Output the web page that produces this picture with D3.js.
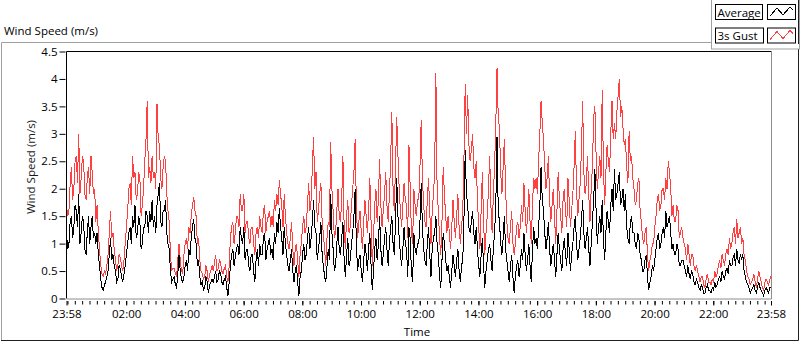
<!DOCTYPE html>
<html>
<head>
<meta charset="utf-8">
<script src="https://cdn.jsdelivr.net/npm/d3@7"></script>
<style>
  body { margin: 0; background: #fff; }
  svg { display: block; }
</style>
</head>
<body>
<div class="windChart"></div>
<script>
// samples every 2.5 minutes from 23:58 to 23:58 next day (m/s), one row per hour
const startTime = new Date(2021, 0, 1, 23, 58)
const stepMinutes = 2.5

const average = [
  1.2, 0.9, 1.0, 1.4, 1.5, 1.1, 1.3, 1.7, 1.6, 1.3, 1.9, 1.0, 1.2, 1.5, 1.4, 0.9, 0.8, 1.2, 1.5, 1.0, 1.3, 1.5, 1.1, 1.2,
  1.0, 1.2, 0.8, 0.6, 0.35, 0.2, 0.15, 0.25, 0.3, 0.4, 0.5, 0.8, 1.1, 0.7, 0.8, 0.6, 0.5, 0.3, 0.35, 0.6, 0.55, 0.4, 0.3, 0.45,
  0.6, 0.8, 1.0, 1.2, 1.3, 1.0, 1.5, 1.3, 1.7, 1.1, 1.2, 1.5, 1.4, 0.9, 1.0, 1.3, 1.3, 1.6, 1.5, 1.2, 1.6, 1.4, 1.8, 1.3,
  1.5, 1.2, 1.7, 1.9, 2.1, 1.4, 1.3, 1.6, 1.6, 1.8, 1.2, 1.0, 0.9, 0.5, 0.3, 0.35, 0.4, 0.25, 0.2, 0.45, 0.8, 0.5, 0.35, 0.3,
  0.4, 0.6, 0.7, 0.5, 0.9, 0.8, 1.1, 1.3, 1.45, 1.1, 1.0, 0.6, 0.7, 0.4, 0.25, 0.3, 0.15, 0.2, 0.4, 0.3, 0.1, 0.25, 0.3, 0.35,
  0.3, 0.4, 0.5, 0.3, 0.35, 0.5, 0.45, 0.3, 0.25, 0.35, 0.4, 0.2, 0.05, 0.3, 0.6, 0.8, 0.9, 0.6, 0.75, 0.9, 1.0, 0.8, 1.3, 1.1,
  1.0, 1.3, 0.7, 0.9, 0.9, 0.6, 0.5, 0.8, 0.8, 0.5, 0.3, 0.7, 0.9, 0.6, 1.0, 0.8, 0.8, 1.1, 1.2, 0.7, 0.9, 1.0, 1.1, 0.8,
  0.9, 0.7, 1.2, 1.0, 1.4, 1.2, 1.65, 1.3, 1.1, 0.8, 1.3, 1.0, 0.8, 0.6, 0.5, 0.7, 0.9, 0.5, 0.3, 0.5, 0.6, 0.3, 0.05, 0.4,
  0.5, 0.8, 1.0, 0.7, 0.8, 1.1, 1.3, 0.9, 1.1, 1.4, 1.8, 1.3, 1.2, 0.7, 0.9, 1.1, 1.4, 0.8, 0.6, 0.4, 0.3, 0.6, 0.9, 0.7,
  1.9, 1.2, 0.9, 0.5, 0.6, 1.0, 1.3, 0.9, 0.8, 1.1, 1.4, 0.7, 0.4, 0.8, 1.1, 0.6, 0.7, 1.0, 1.2, 1.5, 2.0, 1.0, 0.5, 0.7,
  0.8, 0.5, 0.3, 0.7, 1.0, 0.8, 0.5, 0.9, 1.2, 0.6, 0.15, 0.5, 0.9, 1.1, 0.7, 1.0, 1.5, 0.9, 0.6, 0.8, 1.1, 1.3, 0.9, 0.6,
  1.0, 1.3, 1.5, 1.0, 0.8, 1.4, 2.2, 1.5, 1.1, 0.8, 0.6, 0.9, 1.3, 1.0, 0.9, 0.4, 1.3, 1.1, 0.5, 0.3, 1.2, 0.9, 0.8, 1.0,
  1.0, 1.4, 2.1, 1.3, 0.9, 0.7, 0.6, 1.0, 1.3, 0.8, 0.4, 0.9, 1.1, 1.2, 1.5, 1.0, 0.8, 0.4, 0.2, 0.7, 1.2, 1.0, 0.7, 0.5,
  0.6, 0.4, 0.2, 0.5, 0.8, 0.6, 0.4, 0.7, 0.9, 0.5, 0.3, 0.6, 0.7, 1.5, 2.7, 1.9, 1.7, 1.3, 1.2, 1.4, 1.6, 1.2, 1.0, 1.3,
  0.9, 0.6, 0.4, 0.8, 1.1, 0.6, 0.2, 0.5, 0.7, 0.9, 1.0, 0.7, 0.5, 0.9, 1.2, 1.7, 2.95, 1.6, 1.4, 1.0, 0.8, 1.1, 1.5, 0.9,
  0.7, 0.5, 0.3, 0.6, 0.8, 0.4, 0.1, 0.4, 0.6, 0.7, 0.4, 0.6, 0.9, 0.7, 1.2, 0.8, 0.5, 0.7, 1.0, 0.6, 0.3, 0.9, 1.3, 1.0,
  1.1, 0.9, 1.3, 1.7, 2.4, 1.8, 1.6, 1.2, 0.9, 1.1, 1.4, 0.9, 0.6, 0.8, 1.0, 0.7, 0.4, 0.8, 1.2, 0.9, 0.7, 0.5, 0.9, 1.1,
  0.8, 0.6, 1.2, 0.9, 0.5, 0.8, 1.0, 1.3, 1.5, 1.0, 0.7, 0.9, 1.1, 1.4, 1.8, 1.2, 0.9, 1.1, 1.3, 0.9, 0.6, 1.0, 1.4, 1.8,
  2.35, 1.6, 1.0, 1.3, 1.5, 1.2, 1.8, 1.1, 0.7, 1.2, 1.6, 1.4, 1.2, 1.7, 2.0, 1.6, 2.35, 1.8, 1.9, 2.1, 2.3, 1.7, 1.8, 2.0,
  1.6, 1.9, 1.3, 1.1, 1.0, 1.4, 1.5, 1.2, 1.2, 1.0, 0.9, 1.2, 1.1, 0.8, 0.7, 0.5, 0.5, 0.7, 0.8, 0.4, 0.15, 0.3, 0.4, 0.6,
  0.5, 0.7, 0.9, 1.1, 1.2, 0.9, 1.0, 1.2, 1.3, 1.1, 1.6, 1.3, 1.4, 1.5, 1.2, 0.9, 1.0, 0.8, 0.8, 1.0, 0.9, 0.6, 0.6, 0.7,
  0.7, 0.6, 0.5, 0.4, 0.6, 0.45, 0.35, 0.5, 0.45, 0.3, 0.25, 0.35, 0.3, 0.2, 0.15, 0.25, 0.2, 0.1, 0.1, 0.2, 0.25, 0.15, 0.15, 0.1,
  0.2, 0.15, 0.3, 0.2, 0.25, 0.35, 0.4, 0.3, 0.5, 0.4, 0.35, 0.5, 0.55, 0.45, 0.7, 0.6, 0.6, 0.75, 0.8, 0.6, 0.9, 0.7, 0.65, 0.8,
  0.7, 0.8, 0.5, 0.4, 0.3, 0.25, 0.2, 0.1, 0.15, 0.2, 0.25, 0.15, 0.1, 0.2, 0.3, 0.2, 0.15, 0.1, 0.05, 0.15, 0.2, 0.15, 0.1, 0.2, 0.2
]

const gust = [
  1.7, 1.5, 1.6, 2.1, 2.4, 1.8, 2.0, 2.5, 2.6, 2.1, 3.0, 1.9, 2.2, 2.6, 2.5, 1.9, 1.8, 2.2, 2.4, 1.9, 2.6, 2.3, 1.9, 2.0,
  1.4, 1.7, 1.2, 0.9, 0.6, 0.45, 0.4, 0.5, 0.45, 0.6, 0.8, 1.2, 1.6, 1.1, 1.2, 0.9, 0.7, 0.5, 0.6, 0.8, 0.75, 0.6, 0.5, 0.7,
  1.0, 1.3, 1.6, 2.0, 2.1, 1.7, 2.6, 2.2, 2.3, 1.8, 1.9, 2.3, 2.2, 1.5, 1.7, 2.0, 2.5, 2.9, 3.6, 2.2, 2.4, 2.1, 2.6, 2.2,
  2.3, 2.0, 3.55, 2.9, 2.8, 2.2, 2.0, 2.4, 2.6, 2.5, 1.9, 1.6, 1.4, 0.8, 0.5, 0.55, 0.55, 0.45, 0.4, 0.7, 1.0, 0.7, 0.5, 0.45,
  0.8, 1.0, 1.1, 0.9, 1.3, 1.2, 1.5, 1.7, 1.85, 1.6, 1.5, 1.0, 1.1, 0.7, 0.5, 0.45, 0.35, 0.4, 0.6, 0.5, 0.3, 0.45, 0.5, 0.6,
  0.5, 0.65, 0.8, 0.5, 0.55, 0.7, 0.65, 0.5, 0.45, 0.55, 0.6, 0.4, 0.3, 0.6, 1.1, 1.3, 1.4, 1.0, 1.2, 1.5, 1.5, 1.3, 1.9, 1.6,
  1.6, 1.9, 1.2, 1.4, 1.4, 1.1, 1.0, 1.3, 1.3, 1.0, 0.8, 1.2, 1.3, 1.1, 1.5, 1.3, 1.2, 1.6, 1.7, 1.2, 1.4, 1.5, 1.6, 1.3,
  1.5, 1.3, 1.8, 1.6, 1.9, 1.7, 2.15, 1.9, 1.7, 1.3, 1.9, 1.5, 1.2, 1.0, 0.9, 1.1, 1.4, 0.9, 0.6, 0.9, 1.0, 0.7, 0.4, 0.8,
  1.0, 1.3, 1.5, 1.2, 1.3, 1.7, 2.1, 1.6, 1.8, 2.4, 2.95, 2.0, 2.3, 1.4, 1.6, 1.9, 2.1, 1.4, 1.2, 0.9, 0.6, 1.1, 1.4, 1.3,
  2.85, 2.0, 1.6, 1.1, 1.2, 1.6, 2.0, 1.5, 1.4, 1.8, 2.6, 1.3, 0.9, 1.5, 1.8, 1.2, 1.3, 1.7, 2.0, 2.3, 2.9, 1.7, 1.1, 1.4,
  1.6, 1.2, 0.9, 1.4, 1.8, 1.5, 1.2, 1.6, 2.2, 1.4, 0.6, 1.1, 1.7, 2.0, 1.4, 1.8, 2.55, 1.7, 1.3, 1.6, 1.9, 2.3, 1.7, 1.4,
  1.9, 2.5, 3.4, 2.0, 1.6, 2.4, 3.3, 2.6, 2.0, 1.6, 1.3, 1.7, 2.1, 1.8, 1.7, 1.1, 2.8, 2.0, 1.2, 1.0, 2.0, 1.7, 1.5, 1.8,
  1.8, 2.4, 3.25, 2.2, 1.7, 1.4, 1.3, 1.8, 2.2, 1.6, 1.0, 1.6, 1.9, 2.3, 4.1, 2.0, 1.6, 1.1, 0.8, 1.4, 2.4, 1.9, 1.5, 1.2,
  1.5, 1.2, 0.9, 1.3, 1.8, 1.4, 1.1, 1.5, 1.9, 1.3, 1.0, 1.3, 1.6, 2.6, 3.9, 3.0, 3.7, 2.8, 2.5, 2.7, 3.0, 2.4, 2.2, 2.5,
  1.8, 1.3, 0.9, 1.6, 2.3, 1.4, 0.8, 1.2, 1.5, 2.0, 2.6, 1.7, 1.2, 1.9, 2.4, 3.2, 4.2, 3.3, 3.1, 2.3, 1.9, 2.4, 2.9, 2.0,
  1.4, 1.1, 1.0, 1.3, 1.6, 1.0, 0.8, 1.0, 1.3, 1.4, 1.1, 1.3, 1.7, 1.4, 2.1, 1.6, 1.2, 1.5, 2.0, 1.4, 1.0, 1.7, 2.2, 2.0,
  2.2, 1.9, 2.5, 3.0, 3.6, 3.2, 2.9, 2.4, 2.0, 2.2, 2.6, 1.8, 1.4, 1.7, 2.0, 1.5, 1.0, 1.6, 2.3, 1.8, 1.5, 1.2, 1.8, 2.0,
  1.6, 1.3, 2.2, 1.8, 1.3, 1.6, 1.9, 2.4, 3.05, 2.0, 1.5, 1.8, 2.1, 2.7, 3.6, 2.3, 1.9, 2.1, 2.6, 1.9, 1.4, 2.0, 2.4, 3.3,
  3.5, 2.6, 2.0, 2.3, 2.6, 2.2, 3.8, 2.4, 1.7, 2.3, 2.8, 2.5, 2.3, 3.0, 3.6, 2.9, 3.2, 2.9, 3.4, 3.7, 4.0, 3.3, 3.5, 3.1,
  2.8, 2.9, 2.4, 2.1, 3.05, 2.5, 2.6, 2.2, 2.0, 1.7, 1.8, 2.1, 2.2, 1.6, 1.4, 1.1, 1.0, 1.2, 1.3, 0.8, 0.5, 0.7, 0.8, 1.0,
  1.0, 1.3, 1.5, 1.8, 1.9, 1.6, 1.7, 2.0, 2.0, 1.8, 2.2, 2.0, 2.5, 2.3, 2.0, 1.5, 1.7, 1.4, 1.4, 1.7, 1.6, 1.1, 1.2, 1.3,
  1.1, 1.0, 0.9, 0.7, 1.0, 0.8, 0.6, 0.8, 0.8, 0.6, 0.5, 0.6, 0.5, 0.4, 0.3, 0.4, 0.4, 0.25, 0.2, 0.35, 0.45, 0.3, 0.3, 0.25,
  0.35, 0.3, 0.5, 0.4, 0.45, 0.6, 0.7, 0.55, 0.8, 0.7, 0.6, 0.8, 0.9, 0.8, 1.1, 0.9, 1.0, 1.2, 1.3, 1.0, 1.45, 1.1, 1.2, 1.3,
  1.0, 1.1, 0.8, 0.7, 0.5, 0.4, 0.35, 0.25, 0.3, 0.35, 0.45, 0.3, 0.2, 0.35, 0.5, 0.4, 0.3, 0.2, 0.15, 0.3, 0.35, 0.3, 0.25, 0.35, 0.4
]

const yTicks = [0, 0.5, 1, 1.5, 2, 2.5, 3, 3.5, 4, 4.5]
const labelHours = [2, 4, 6, 8, 10, 12, 14, 16, 18, 20, 22]
const seriesNames = ["Average", "3s Gust"]

const font = "'Open Sans', 'Noto Sans', sans-serif"
const colors = {"Average": "#000000", "3s Gust": "#ff4040"}

const drawWindChart = (className) => {
  let width = 800
  let height = 342
  let plot = {left: 66.5, right: 771.5, top: 51.5, bottom: 298.5}

  let endTime = d3.timeDay.offset(startTime, 1)
  let timeAt = i => new Date(+startTime + i * stepMinutes * 60000)

  let x = d3.scaleTime()
    .domain([startTime, endTime])
    .range([plot.left, plot.right - 0.5])

  let y = d3.scaleLinear()
    .domain([0, 4.5])
    .range([plot.bottom, plot.top])

  const svg = d3.select('.' + className).append("svg")
    .attr("width", width)
    .attr("height", height)
    .attr("font-family", font)

  // outer panel frame
  svg.append("path")
    .attr("d", `M1.5,341 V42.5 H712`)
    .attr("fill", "none")
    .attr("stroke", "#a0a0a0")
  svg.append("path")
    .attr("d", `M1,340.5 H798.5 V42`)
    .attr("fill", "none")
    .attr("stroke", "#202020")

  svg.append("text")
    .attr("x", 4)
    .attr("y", 35)
    .attr("font-size", 11.5)
    .attr("fill", "#000")
    .text("Wind Speed (m/s)")

  // plot area
  svg.append("defs").append("clipPath")
      .attr("id", "plotClip")
    .append("rect")
      .attr("x", plot.left)
      .attr("y", plot.top)
      .attr("width", plot.right - plot.left)
      .attr("height", plot.bottom - plot.top)

  let line = d3.line()
    .x((d, i) => x(timeAt(i)))
    .y(d => y(d))

  let series = [
    {name: "3s Gust", values: gust},
    {name: "Average", values: average}
  ]

  svg.append("g")
      .attr("clip-path", "url(#plotClip)")
    .selectAll("path")
    .data(series)
    .join("path")
      .attr("fill", "none")
      .attr("stroke", d => colors[d.name])
      .attr("stroke-width", 1)
      .attr("shape-rendering", "crispEdges")
      .attr("d", d => line(d.values))

  svg.append("path")
    .attr("d", `M${plot.left},${plot.bottom} V${plot.top} H${plot.right}`)
    .attr("fill", "none")
    .attr("stroke", "#000")
  svg.append("path")
    .attr("d", `M${plot.left},${plot.bottom + 0.5} H${plot.right} V${plot.top}`)
    .attr("fill", "none")
    .attr("stroke", "#8c8c8c")

  // y axis
  let yAxis = g => g
    .attr("transform", `translate(${plot.left - 1},0)`)
    .call(d3.axisLeft(y).tickValues(yTicks).tickSize(6).tickPadding(2).tickFormat(d3.format("~g")))
    .call(g => g.select(".domain").remove())
    .call(g => g.selectAll("text").attr("font-size", 11.5).attr("fill", "#000").attr("font-family", font))

  svg.append("g").call(yAxis)

  // x axis: minor ticks every 15 min, labels every 2 h plus both ends
  let minorTicks = d3.timeMinute.every(15).range(startTime, endTime)
  let labelTicks = [startTime]
    .concat(labelHours.map(h => new Date(2021, 0, 2, h, 0)))
    .concat([endTime])

  let axisY = plot.bottom + 2.5

  svg.append("g")
    .attr("transform", `translate(0,${axisY})`)
    .call(d3.axisBottom(x).tickValues(minorTicks).tickSize(3.5).tickFormat(""))
    .call(g => g.select(".domain").remove())

  svg.append("g")
    .attr("transform", `translate(0,${axisY})`)
    .call(d3.axisBottom(x).tickValues(labelTicks).tickSize(4.5).tickPadding(4).tickFormat(d3.timeFormat("%H:%M")))
    .call(g => g.select(".domain").remove())
    .call(g => g.selectAll("text").attr("font-size", 11.5).attr("fill", "#000").attr("font-family", font))

  svg.append("text")
    .attr("x", (plot.left + plot.right) / 2 - 2)
    .attr("y", 336)
    .attr("text-anchor", "middle")
    .attr("font-size", 11.5)
    .attr("fill", "#000")
    .text("Time")

  svg.append("text")
    .attr("transform", `translate(35,167) rotate(-90)`)
    .attr("text-anchor", "middle")
    .attr("font-size", 11.5)
    .attr("fill", "#1a1a1a")
    .text("Wind Speed (m/s)")

  // legend
  let legend = svg.append("g")
  legend.append("rect")
    .attr("x", 711.5)
    .attr("y", -1)
    .attr("width", 88)
    .attr("height", 50)
    .attr("fill", "#fff")
    .attr("stroke", "#a0a0a0")
  legend.append("path")
    .attr("d", "M798.5,0 V44")
    .attr("stroke", "#202020")

  let item = legend.selectAll("g.item")
    .data(seriesNames)
    .join("g")
      .attr("class", "item")
      .attr("transform", (d, i) => `translate(0,${4 + i * 23.5})`)

  item.append("rect")
    .attr("x", 715.5)
    .attr("y", 0.5)
    .attr("width", d => d == "Average" ? 47 : 48)
    .attr("height", 15)
    .attr("fill", "#fff")
    .attr("stroke", "#000")

  item.append("text")
    .attr("x", 717.5)
    .attr("y", 12.5)
    .attr("font-size", 11.5)
    .attr("fill", "#000")
    .text(d => d)

  item.append("rect")
    .attr("x", 767.5)
    .attr("y", 0.5)
    .attr("width", 28)
    .attr("height", 15)
    .attr("fill", "#fff")
    .attr("stroke", "#000")

  item.append("path")
    .attr("d", "M770,12 L777,4 L783,11 L790,3 L793,6")
    .attr("fill", "none")
    .attr("stroke", d => colors[d])
    .attr("shape-rendering", "crispEdges")
}

drawWindChart("windChart")
</script>
</body>
</html>
